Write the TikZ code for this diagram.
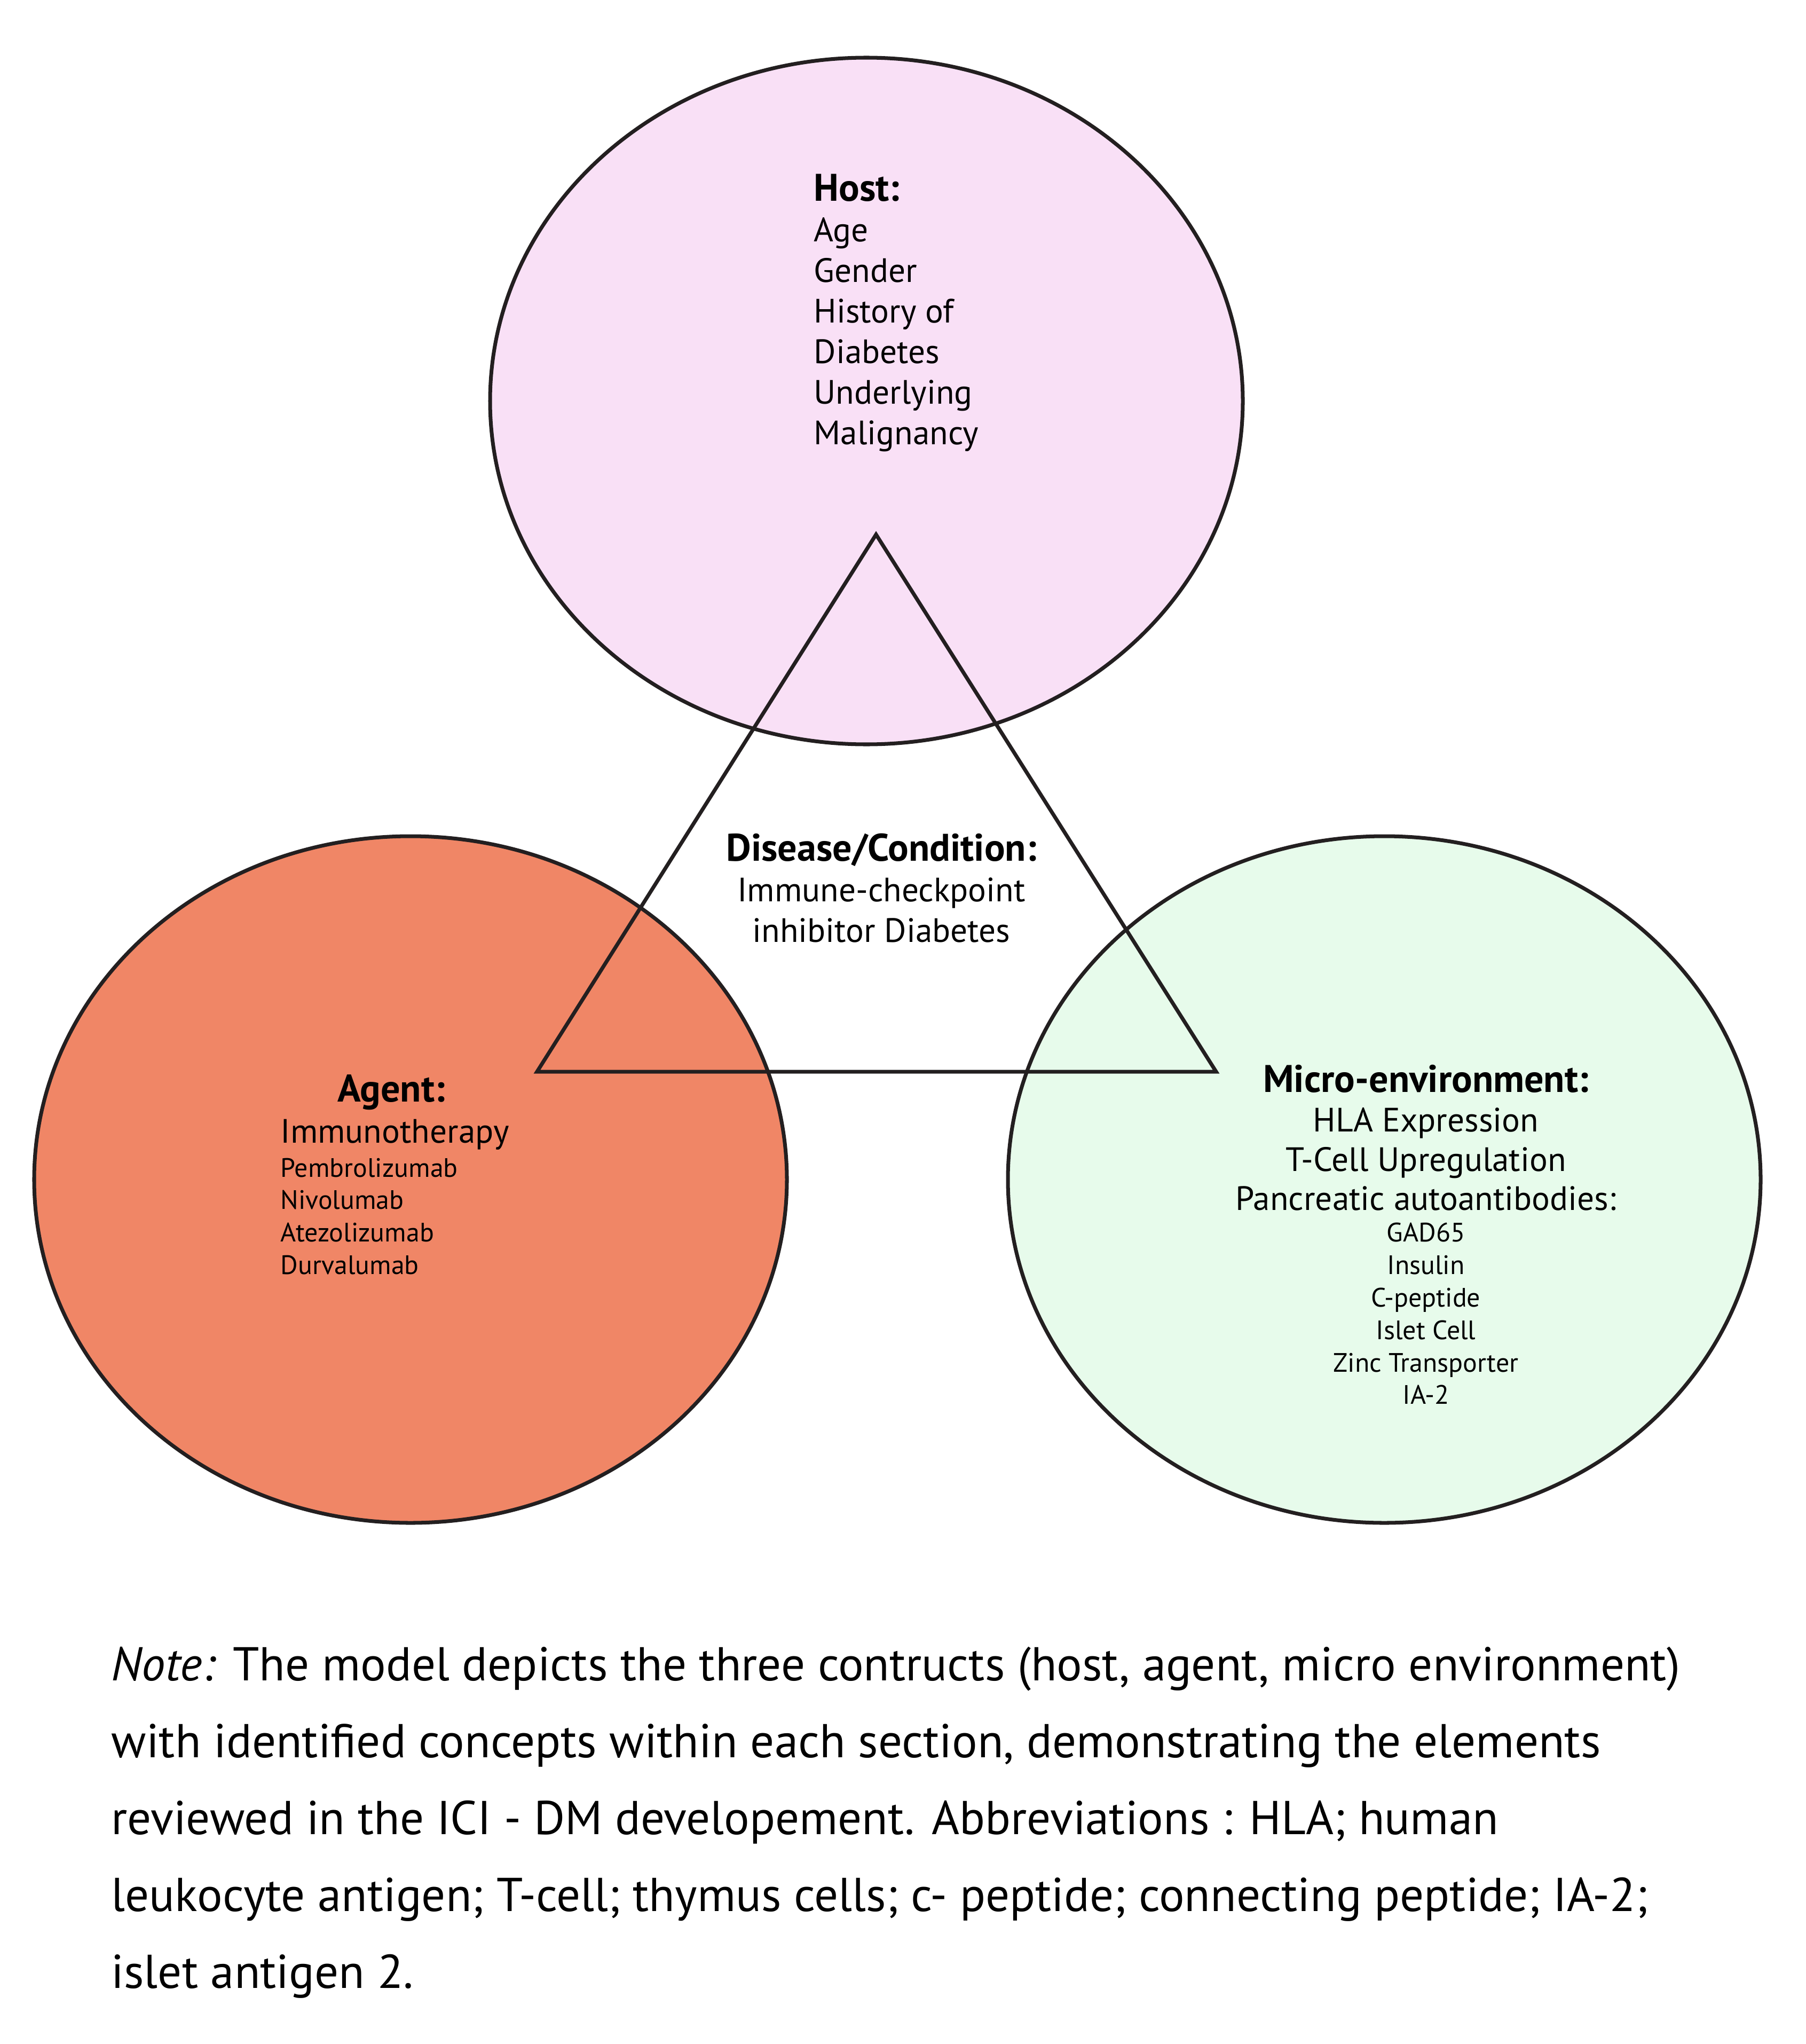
\documentclass[tikz,border=0pt]{standalone}
\usepackage{fontspec}
\setmainfont{PT Sans}
\usetikzlibrary{shapes.geometric,positioning}
\definecolor{hostpink}{RGB}{249,224,246}
\definecolor{agentorange}{RGB}{240,134,102}
\definecolor{micromint}{RGB}{231,251,235}
\definecolor{inkline}{RGB}{35,31,32}

\begin{document}
\begin{tikzpicture}[construct/.style={ellipse,draw=inkline,line width=2pt,minimum width=14.1cm,minimum height=12.86cm,inner sep=0pt},mainlist/.style={inner sep=0pt,text=black,font=\fontsize{18}{21.6}\selectfont},smalllist/.style={inner sep=0pt,text=black,font=\fontsize{14.2}{17.3}\selectfont},triline/.style={draw=inkline,line width=2pt}]
\useasboundingbox (0,0) rectangle (33.82,-38.28);
% the three constructs
\node[construct,fill=hostpink] (host) at (16.23,-7.51) {};
\node[construct,fill=agentorange] (agent) at (7.69,-22.09) {};
\node[construct,fill=micromint] (micro) at (25.93,-22.09) {};
% disease triangle
\coordinate (tTop) at (16.41,-10.01);
\coordinate (tLeft) at (10.06,-20.07);
\coordinate (tRight) at (22.78,-20.07);
\draw[triline] (tTop) -- (tLeft) -- (tRight) -- cycle;
% texts
\newcommand{\heading}[1]{{\fontsize{20.5}{21.6}\selectfont\bfseries #1}}
\node[mainlist,anchor=west,align=left] (hostTxt) at (15.24,-5.86) {\heading{Host:}\\Age\\Gender\\History of\\Diabetes\\Underlying\\Malignancy};
\node[mainlist,align=center] (diseaseTxt) at (16.51,-16.63) {\heading{Disease/Condition:}\\Immune-checkpoint\\inhibitor Diabetes};
\node[mainlist] (agentHead) at (7.33,-20.46) {\heading{Agent:}};
\node[mainlist,anchor=west] (agentMain) at (5.25,-21.25) {Immunotherapy};
\node[smalllist,anchor=west,align=left] (agentList) at (5.25,-22.78) {Pembrolizumab\\Nivolumab\\Atezolizumab\\Durvalumab};
\node[mainlist,align=center,font=\fontsize{18}{21}\selectfont] (microMain) at (26.71,-21.31) {\heading{Micro-environment:}\\HLA Expression\\T-Cell Upregulation\\Pancreatic autoantibodies:};
\node[smalllist,align=center] (microList) at (26.71,-24.60) {GAD65\\Insulin\\C-peptide\\Islet Cell\\Zinc Transporter\\IA-2};
% note below
\node[inner sep=0pt,anchor=west,align=left,font=\fontsize{25.3}{41}\selectfont] (noteTxt) at (2.08,-34.13) {\textit{Note:} The model depicts the three contructs (host, agent, micro environment)\\with identified concepts within each section, demonstrating the elements\\reviewed in the ICI - DM developement. Abbreviations : HLA; human\\leukocyte antigen; T-cell; thymus cells; c- peptide; connecting peptide; IA-2;\\islet antigen 2.};
\end{tikzpicture}
\end{document}
